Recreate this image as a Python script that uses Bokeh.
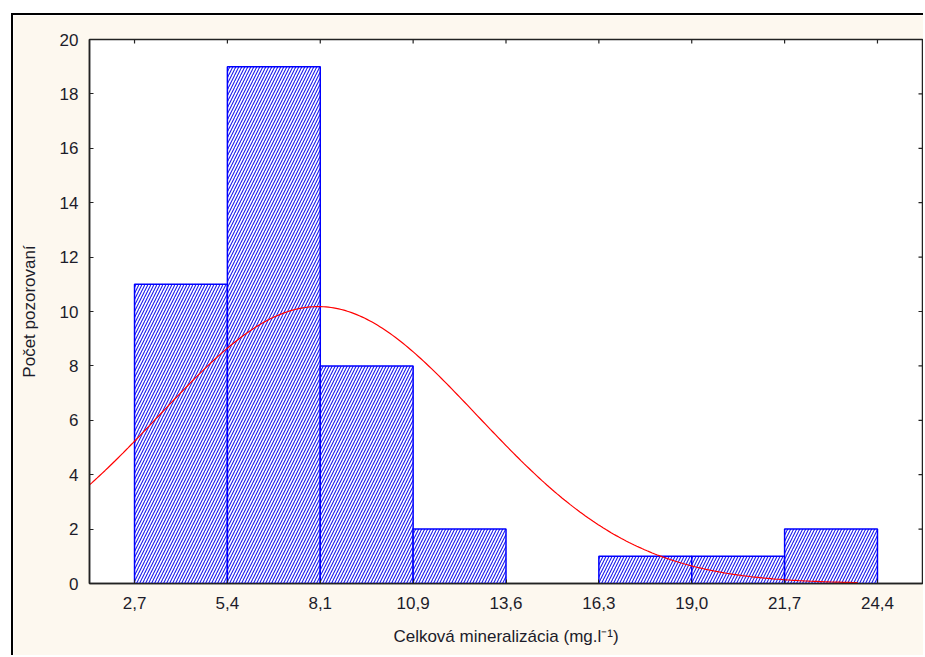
from bokeh.plotting import figure
from bokeh.models import FixedTicker, Range1d
from bokeh.embed import file_html
from bokeh.resources import INLINE
import numpy as np

# ---- data ----
bin_edges = [2.714, 5.428, 8.142, 10.856, 13.570, 16.284, 18.998, 21.712, 24.426]
edge_labels = ["2,7", "5,4", "8,1", "10,9", "13,6", "16,3", "19,0", "21,7", "24,4"]
counts = [11, 19, 8, 2, 0, 1, 1, 2]
y_ticks = [0, 2, 4, 6, 8, 10, 12, 14, 16, 18, 20]

# fitted normal curve parameters
curve_mean = 8.08
curve_sd = 4.65
curve_peak = 10.18
curve_start = 1.398
curve_end = 23.85

X_MIN, X_MAX = 1.398, 25.742
Y_MIN, Y_MAX = 0, 20

FONT = "Liberation Sans"
BG = "#fdf8ef"
TXT = "#1c1c2a"
FS = "17px"

p = figure(width=912, height=642, output_backend="svg", toolbar_location=None,
           x_range=Range1d(X_MIN, X_MAX), y_range=Range1d(Y_MIN, Y_MAX),
           min_border_left=76, min_border_top=24, min_border_right=3, min_border_bottom=74)
p.styles = {"margin-left": "11px", "margin-top": "13px",
            "border-left": "2px solid black", "border-top": "2px solid black"}

p.background_fill_color = "white"
p.border_fill_color = BG
p.outline_line_color = "#222222"
p.outline_line_width = 1.5
p.grid.visible = False

# only non-empty bins are drawn as bars
bars = [(l, r, c) for l, r, c in zip(bin_edges[:-1], bin_edges[1:], counts) if c > 0]
p.quad(left=[b[0] for b in bars], right=[b[1] for b in bars], bottom=0,
       top=[b[2] for b in bars],
       fill_color="white", line_color="#0000ff", line_width=1.5,
       hatch_pattern="/", hatch_color="#1a1aee", hatch_scale=6, hatch_weight=1.1)

xs = np.linspace(curve_start, curve_end, 300)
ys = curve_peak * np.exp(-0.5 * ((xs - curve_mean) / curve_sd) ** 2)
p.line(xs, ys, line_color="#ff0000", line_width=1.2)

# inward ticks on top and right spines (clipped to the frame)
p.dash(x=bin_edges, y=[Y_MAX] * len(bin_edges), angle=np.pi / 2, size=8,
       line_color="#222222", line_width=1.2)
p.dash(x=[X_MAX] * len(y_ticks), y=y_ticks, size=8,
       line_color="#222222", line_width=1.2)

xa = p.xaxis[0]
xa.ticker = FixedTicker(ticks=bin_edges)
xa.major_label_overrides = {e: l for e, l in zip(bin_edges, edge_labels)}
xa.axis_label = "Celková mineralizácia (mg.l⁻¹)"

ya = p.yaxis[0]
ya.ticker = FixedTicker(ticks=y_ticks)
ya.axis_label = "Počet pozorovaní"

for ax in (xa, ya):
    ax.major_tick_in = 4
    ax.major_tick_out = 0
    ax.minor_tick_line_color = None
    ax.axis_line_color = "#222222"
    ax.axis_line_width = 1.5
    ax.major_tick_line_color = "#222222"
    ax.major_label_text_font = FONT
    ax.major_label_text_font_size = FS
    ax.major_label_text_color = TXT
    ax.axis_label_text_font = FONT
    ax.axis_label_text_font_size = FS
    ax.axis_label_text_font_style = "normal"
    ax.axis_label_text_color = TXT

xa.major_label_standoff = 13
xa.axis_label_standoff = 15
ya.major_label_standoff = 11
ya.axis_label_standoff = 18

open("out.html", "w").write(file_html(p, INLINE))
